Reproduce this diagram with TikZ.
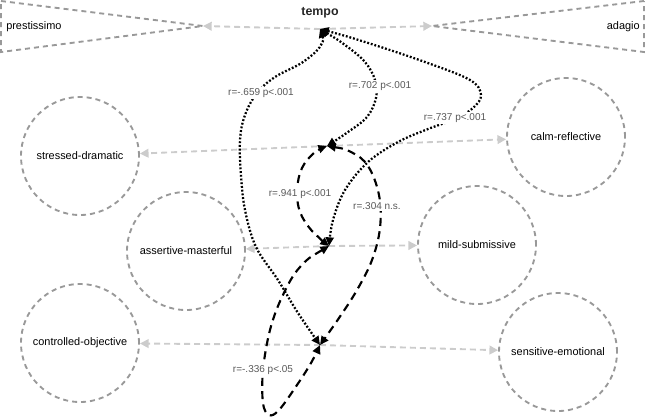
\documentclass[tikz,border=0pt]{standalone}
\usepackage{fontspec}
\setmainfont{Liberation Sans}
\usetikzlibrary{arrows.meta}
\begin{document}
\begin{tikzpicture}[x=0.75pt,y=-0.75pt,
  pole/.style={draw=black!40, line width=1.4pt, dash pattern=on 3.75pt off 3pt},
  circ/.style={pole, circle, minimum size=88.5pt, inner sep=0pt, font=\fontsize{8.2}{10}\selectfont},
  axis/.style={draw=black!20, line width=1.4pt, dash pattern=on 4.5pt off 3pt, -{Triangle[length=6.5pt,width=6.5pt,fill=black!20]}},
  tip/.style={Triangle[length=6.5pt,width=6pt]},
  dotedge/.style={black, line width=1.7pt, dash pattern=on 1.4pt off 1.4pt, {Triangle[length=6.5pt,width=6pt]}-{Triangle[length=6.5pt,width=6pt]}},
  dashedge/.style={black, line width=1.6pt, dash pattern=on 6pt off 4pt, {Triangle[length=6.5pt,width=6pt]}-{Triangle[length=6.5pt,width=6pt]}},
  lab/.style={fill=white, inner sep=0.8pt, text=black!65, font=\fontsize{7.5}{9}\selectfont},
  pname/.style={font=\fontsize{8.2}{10}\selectfont, inner sep=0pt}
]
\useasboundingbox (0,0) rectangle (645,419);

% tempo triangles
\coordinate (presto) at (203,26);
\coordinate (adag) at (432,26);
\draw[pole] (1,1) -- (presto) -- (1,52) -- cycle;
\draw[pole] (644,1) -- (adag) -- (644,52) -- cycle;
\node[pname, anchor=west] (prestissimo) at (6,27) {prestissimo};
\node[pname, anchor=east] (adagio) at (640,27) {adagio};
\node[font=\bfseries\fontsize{9.3}{11}\selectfont, text=black!85] (tempo) at (320,13) {tempo};

% circles
\node[circ] (sd) at (80,156) {stressed-dramatic};
\node[circ] (am) at (186,251) {assertive-masterful};
\node[circ] (co) at (80,343) {controlled-objective};
\node[circ] (cr) at (566,137) {calm-reflective};
\node[circ] (ms) at (477,245) {mild-submissive};
\node[circ] (se) at (558,352) {sensitive-emotional};

% hubs
\coordinate (T) at (320,29);
\coordinate (P1) at (327,146);
\coordinate (P2) at (329,246);
\coordinate (P3) at (320,345);

% axes
\draw[axis] (T) -- (presto);
\draw[axis] (T) -- (adag);
\draw[axis] (P1) -- (sd);
\draw[axis] (P1) -- (cr);
\draw[axis] (P2) -- (am);
\draw[axis] (P2) -- (ms);
\draw[axis] (P3) -- (co);
\draw[axis] (P3) -- (se);

% correlations
\draw[dotedge] plot[smooth, tension=0.6] coordinates {(T) (321,45) (303,62) (275,77) (257,93) (245,115) (240,140) (241,175) (245,210) (256,247) (278,280) (298,313) (P3)};
\draw[dotedge] plot[smooth, tension=0.6] coordinates {(T) (345,45) (365,62) (375,80) (376,98) (367,117) (348,132) (P1)};
\draw[dotedge] plot[smooth, tension=0.6] coordinates {(T) (365,42) (425,62) (470,80) (481,95) (473,108) (455,119) (428,129) (398,142) (368,162) (345,190) (333,220) (P2)};
\draw[dashedge] plot[smooth, tension=0.6] coordinates {(P2) (312,231) (300,212) (297,190) (302,168) (314,153) (P1)};
\draw[dashedge] plot[smooth, tension=0.6] coordinates {(P1) (351,152) (368,166) (379,195) (380,228) (372,260) (357,290) (339,318) (P3)};
\draw[dashedge] plot[smooth, tension=0.6] coordinates {(P2) (300,267) (282,297) (270,330) (263,370) (263,403) (269,415) (279,410) (297,385) (311,363) (P3)};

% labels
\node[lab] (l659) at (261,93) {r=-.659 p<.001};
\node[lab] (l702) at (380,86) {r=.702 p<.001};
\node[lab] (l737) at (455,118) {r=.737 p<.001};
\node[lab] (l941) at (300,194) {r=.941 p<.001};
\node[lab] (l304) at (377,206) {r=.304 n.s.};
\node[lab] (l336) at (263,370) {r=-.336 p<.05};
\end{tikzpicture}
\end{document}
